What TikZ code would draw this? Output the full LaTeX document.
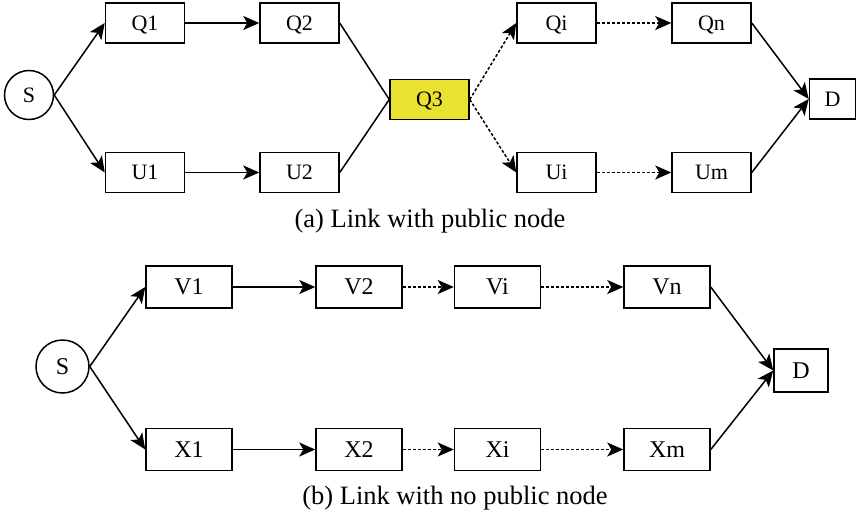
\documentclass[tikz,border=0pt]{standalone}
\usepackage{fontspec}
\setmainfont{Liberation Serif}
\usetikzlibrary{arrows.meta}
\definecolor{pubyellow}{RGB}{233,226,48}
\begin{document}
\begin{tikzpicture}[x=1pt,y=-1pt,
  every node/.style={inner sep=0pt},
  boxA/.style={draw, line width=1.5pt, minimum width=79pt, minimum height=40pt,
    font=\fontsize{22}{24}\selectfont, text height=14.6pt, text depth=0pt},
  boxB/.style={draw, line width=1.5pt, minimum width=86pt, minimum height=42pt,
    font=\fontsize{24}{26}\selectfont, text height=15.9pt, text depth=0pt},
  srcA/.style={draw, circle, line width=1.5pt, minimum size=49pt,
    font=\fontsize{22}{24}\selectfont, text height=14.6pt, text depth=0pt},
  srcB/.style={draw, circle, line width=1.5pt, minimum size=53pt,
    font=\fontsize{24}{26}\selectfont, text height=15.9pt, text depth=0pt},
  caption/.style={anchor=base, font=\fontsize{26.5}{28}\selectfont},
  link/.style={line width=1.5pt, -{Stealth[length=16pt,width=14pt,inset=4pt]}},
  plain/.style={line width=1.5pt},
  dotlink/.style={link, dash pattern=on 3pt off 2pt}
]
\useasboundingbox (0,0) rectangle (856,517);

% (a) two routes sharing the public node Q3
\node[srcA] (Sa) at (29,95) {S};
\node[boxA] (Q1) at (145,23) {Q1};
\node[boxA] (Q2) at (299.5,23) {Q2};
\node[boxA] (U1) at (145,172.5) {U1};
\node[boxA] (U2) at (299.5,172.5) {U2};
\node[boxA, fill=pubyellow] (Q3) at (429.5,99.5) {Q3};
\node[boxA] (Qi) at (556.5,23) {Qi};
\node[boxA] (Qn) at (711.5,23) {Qn};
\node[boxA] (Ui) at (556.5,172.5) {Ui};
\node[boxA] (Um) at (711.5,172.5) {Um};
\node[boxA, minimum width=46pt] (Da) at (832.5,99) {D};

\draw[link] (Sa.east) -- (Q1.west);
\draw[link] (Sa.east) -- (U1.west);
\draw[link] (Q1) -- (Q2);
\draw[link] (U1) -- (U2);
\draw[plain] (Q2.east) -- (Q3.west);
\draw[plain] (U2.east) -- (Q3.west);
\draw[dotlink] (Q3.east) -- (Qi.west);
\draw[dotlink] (Q3.east) -- (Ui.west);
\draw[dotlink] (Qi) -- (Qn);
\draw[dotlink] (Ui) -- (Um);
\draw[link] (Qn.east) -- (Da.west);
\draw[link] (Um.east) -- (Da.west);

\node[caption] (capA) at (430,227) {(a) Link with public node};

% (b) two disjoint routes
\node[srcB] (Sb) at (62.5,366.5) {S};
\node[boxB] (V1) at (189,287) {V1};
\node[boxB] (V2) at (359,287) {V2};
\node[boxB] (Vi) at (497.5,287) {Vi};
\node[boxB] (Vn) at (667,287) {Vn};
\node[boxB] (X1) at (189,449.5) {X1};
\node[boxB] (X2) at (359,449.5) {X2};
\node[boxB] (Xi) at (497.5,449.5) {Xi};
\node[boxB] (Xm) at (667,449.5) {Xm};
\node[boxB, minimum width=54pt, minimum height=43pt] (Db) at (801,370.5) {D};

\draw[link] (Sb.east) -- (V1.west);
\draw[link] (Sb.east) -- (X1.west);
\draw[link] (V1) -- (V2);
\draw[link] (X1) -- (X2);
\draw[dotlink] (V2) -- (Vi);
\draw[dotlink] (Vi) -- (Vn);
\draw[dotlink] (X2) -- (Xi);
\draw[dotlink] (Xi) -- (Xm);
\draw[link] (Vn.east) -- (Db.west);
\draw[link] (Xm.east) -- (Db.west);

\node[caption] (capB) at (455,504) {(b) Link with no public node};
\end{tikzpicture}
\end{document}
